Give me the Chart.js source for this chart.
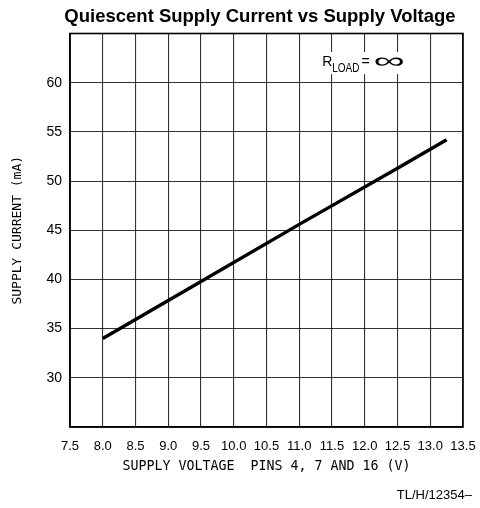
<!DOCTYPE html>
<html>
<head>
<meta charset="utf-8">
<title>Quiescent Supply Current vs Supply Voltage</title>
<script src="https://cdn.jsdelivr.net/npm/chart.js@4/dist/chart.umd.min.js"></script>
<style>
  html, body { margin: 0; padding: 0; background: #fff; overflow: hidden; }
  #wrap { width: 480px; height: 508px; }
</style>
</head>
<body>
<div id="wrap"><canvas id="currentChart" width="480" height="508"></canvas></div>
<script>
// values
const supplyVoltage = [8.0, 9.5, 11.0, 12.5, 13.25];
const supplyCurrent = [34.0, 39.8, 45.6, 51.3, 54.2];

const xTicks = [7.5, 8.0, 8.5, 9.0, 9.5, 10.0, 10.5, 11.0, 11.5, 12.0, 12.5, 13.0, 13.5];
const yTicks = [30, 35, 40, 45, 50, 55, 60];

const chartTitle = 'Quiescent Supply Current vs Supply Voltage';
const xTitle = 'SUPPLY VOLTAGE  PINS 4, 7 AND 16 (V)';
const yTitle = 'SUPPLY CURRENT (mA)';
const figureCode = 'TL/H/12354\u2013';

const sans = '"Liberation Sans", Arial, Helvetica, sans-serif';
const mono = '"DejaVu Sans Mono", "Liberation Mono", monospace';

const points = supplyVoltage.map((v, i) => ({ x: v, y: supplyCurrent[i] }));

// title, frame, R_LOAD note and figure code
const extras = {
  id: 'extras',
  afterDraw(chart) {
    const { ctx, chartArea, scales } = chart;
    ctx.save();

    ctx.fillStyle = '#000';
    ctx.font = 'bold 18.5px ' + sans;
    ctx.textAlign = 'center';
    ctx.textBaseline = 'middle';
    ctx.fillText(chartTitle, 260, 17);

    ctx.strokeStyle = '#000';
    ctx.lineWidth = 1.6;
    ctx.strokeRect(chartArea.left, chartArea.top, chartArea.right - chartArea.left, chartArea.bottom - chartArea.top);

    const x0 = scales.x.getPixelForValue(11.35);
    const yc = scales.y.getPixelForValue(62.2);
    ctx.fillStyle = '#fff';
    ctx.fillRect(x0 - 3, yc - 9, 88, 22);

    ctx.fillStyle = '#000';
    ctx.textBaseline = 'alphabetic';
    ctx.textAlign = 'left';
    ctx.font = '14px ' + sans;
    ctx.fillText('R', x0, yc + 5);
    let x = x0 + ctx.measureText('R').width;
    ctx.font = '12px ' + sans;
    ctx.save();
    ctx.translate(x, yc + 11);
    ctx.scale(0.83, 1);
    ctx.fillText('LOAD', 0, 0);
    ctx.restore();
    x += ctx.measureText('LOAD').width * 0.83 + 2;
    ctx.font = '14px ' + sans;
    ctx.fillText('=', x, yc + 5);
    x += ctx.measureText('=').width + 4;
    ctx.save();
    ctx.translate(x, yc + 7);
    ctx.scale(2.0, 1);
    ctx.font = '22px "Liberation Sans", sans-serif';
    ctx.fillText('\u221e', 0, 0);
    ctx.restore();

    ctx.font = '13px ' + sans;
    ctx.textAlign = 'right';
    ctx.textBaseline = 'middle';
    ctx.fillText(figureCode, 472, 495);

    ctx.restore();
  }
};

new Chart(document.getElementById('currentChart'), {
  type: 'line',
  data: {
    datasets: [{
      data: points,
      borderColor: '#000',
      borderWidth: 3.4,
      pointRadius: 0,
      tension: 0,
      fill: false
    }]
  },
  options: {
    responsive: false,
    animation: false,
    devicePixelRatio: 1,
    layout: { padding: { left: 0, right: 17, top: 33.5, bottom: 0 } },
    plugins: {
      legend: { display: false },
      tooltip: { enabled: false },
      title: { display: false }
    },
    scales: {
      x: {
        type: 'linear',
        min: xTicks[0],
        max: xTicks[xTicks.length - 1],
        afterBuildTicks: (s) => { s.ticks = xTicks.map(v => ({ value: v })); },
        afterFit: (s) => { s.height = 81; s.paddingLeft = 0; s.paddingRight = 0; },
        ticks: {
          autoSkip: false,
          maxRotation: 0,
          padding: 12,
          color: '#000',
          font: { family: sans, size: 13 },
          callback: (v) => Number(v).toFixed(1)
        },
        grid: { color: 'rgba(0,0,0,0.8)', lineWidth: 1.1, drawTicks: false },
        border: { color: '#000', width: 1.6 },
        title: {
          display: true,
          text: xTitle,
          color: '#000',
          font: { family: mono, size: 13.3 },
          padding: { top: 0, bottom: 33 }
        }
      },
      y: {
        type: 'linear',
        min: 25,
        max: 65,
        afterBuildTicks: (s) => { s.ticks = [25].concat(yTicks, [65]).map(v => ({ value: v })); },
        afterFit: (s) => { s.width = 70; s.paddingTop = 0; s.paddingBottom = 0; },
        ticks: {
          padding: 8,
          color: '#000',
          font: { family: sans, size: 14 },
          callback: (v) => yTicks.includes(v) ? String(v) : ''
        },
        grid: { color: 'rgba(0,0,0,0.8)', lineWidth: 1.1, drawTicks: false },
        border: { color: '#000', width: 1.6 },
        title: {
          display: true,
          text: yTitle,
          color: '#000',
          font: { family: mono, size: 13 },
          padding: { top: 10, bottom: 0 }
        }
      }
    }
  },
  plugins: [extras]
});
</script>
</body>
</html>
